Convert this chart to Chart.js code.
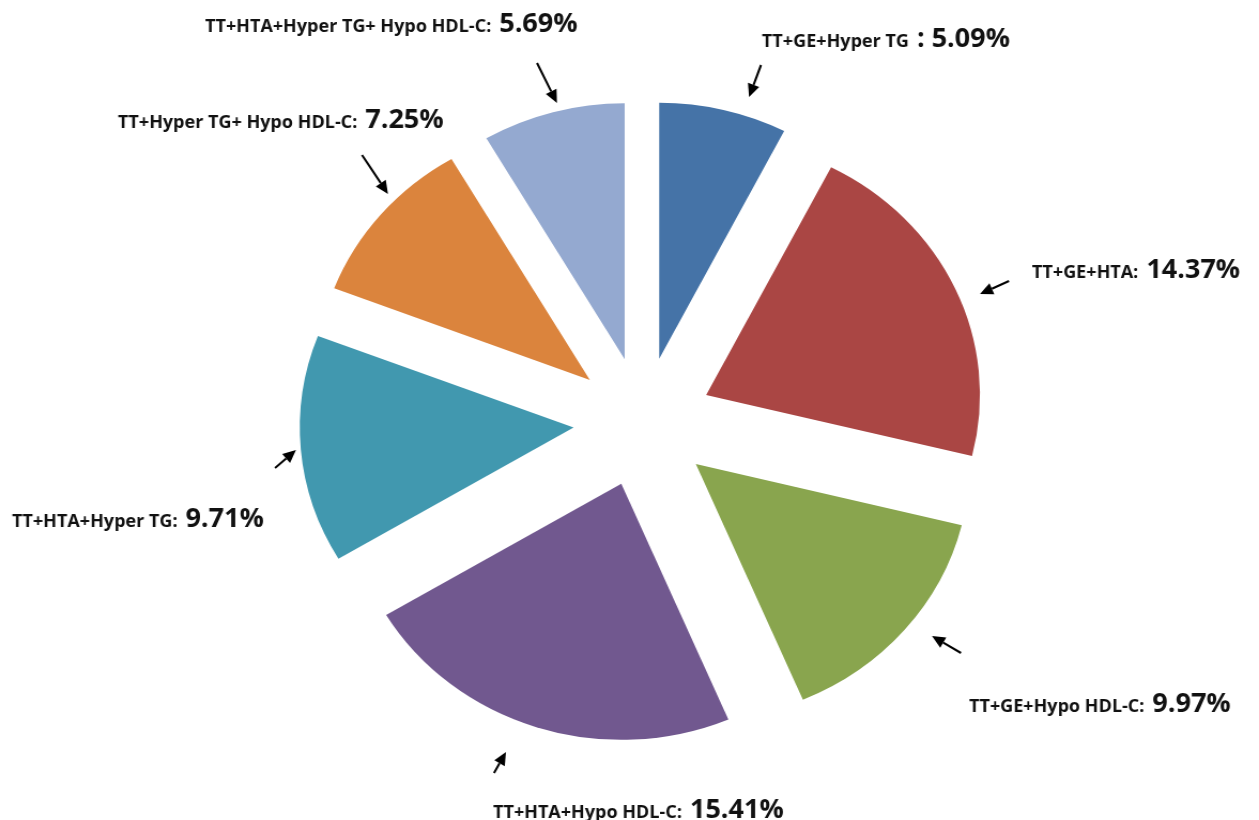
<!DOCTYPE html>
<html>
<head>
<meta charset="utf-8">
<script src="https://cdn.jsdelivr.net/npm/chart.js@4.4.1/dist/chart.umd.min.js"></script>
<style>
    html, body { margin: 0; padding: 0; background: #fff; }
</style>
</head>
<body>
<canvas id="pie" width="1177" height="820" style="display:block;width:1259px;height:820px"></canvas>
<script>
    // combinaisons de facteurs de risque (ordre horaire depuis midi)
    const categories = [
        'TT+GE+Hyper TG',
        'TT+GE+HTA',
        'TT+GE+Hypo HDL-C',
        'TT+HTA+Hypo HDL-C',
        'TT+HTA+Hyper TG',
        'TT+Hyper TG+ Hypo HDL-C',
        'TT+HTA+Hyper TG+ Hypo HDL-C',
    ];
    const shares = [5.09, 14.37, 9.97, 15.41, 9.71, 7.25, 5.69];
    const colors = ['#4573a7', '#aa4644', '#89a54e', '#71588f', '#4198af', '#db843d', '#94a9d0'];

    // the canvas is drawn narrower and stretched by CSS, giving the oval pie
    const SX = 1259 / 1177;
    // how far each slice is pulled out from the centre
    const EXPLODE = 65;

    // label anchors (left x, baseline) and arrows [tailX, tailY, tipX, tipY], page px
    const labelPos = [
        [762, 47], [1032, 278], [969, 712], [493, 818], [12, 527], [118, 128], [205, 32],
    ];
    const arrows = [
        [761, 65, 749, 97],
        [1009, 281, 980, 294],
        [961, 653, 932, 636],
        [494, 773, 506, 752],
        [275, 468, 296, 450],
        [362, 155, 388, 194],
        [537, 63, 557, 103],
    ];

    const nameFont = 'bold 18px "Open Sans"';
    const pctFont = 'bold 27px "Open Sans"';

    function drawArrow(ctx, x1, y1, x2, y2) {
        const a = Math.atan2(y2 - y1, x2 - x1);
        const len = 13, half = 6;
        const bx = x2 - len * Math.cos(a), by = y2 - len * Math.sin(a);
        ctx.beginPath();
        ctx.moveTo(x1, y1);
        ctx.lineTo(bx, by);
        ctx.lineWidth = 2.2;
        ctx.strokeStyle = '#000';
        ctx.stroke();
        ctx.beginPath();
        ctx.moveTo(x2, y2);
        ctx.lineTo(bx + half * Math.sin(a), by - half * Math.cos(a));
        ctx.lineTo(bx - half * Math.sin(a), by + half * Math.cos(a));
        ctx.closePath();
        ctx.fillStyle = '#000';
        ctx.fill();
    }

    // draws every arc pushed out along its mid angle (Chart.js offset also grows small slices)
    const explodePlugin = {
        id: 'explode',
        beforeDatasetsDraw(chart) {
            const ctx = chart.ctx;
            chart.getDatasetMeta(0).data.forEach((arc) => {
                const mid = (arc.startAngle + arc.endAngle) / 2;
                ctx.save();
                ctx.translate(Math.cos(mid) * EXPLODE, Math.sin(mid) * EXPLODE);
                arc.draw(ctx);
                ctx.restore();
            });
            return false;
        },
    };

    const calloutPlugin = {
        id: 'callouts',
        afterDraw(chart) {
            const ctx = chart.ctx;
            ctx.save();
            ctx.scale(1 / SX, 1);
            ctx.textBaseline = 'alphabetic';
            categories.forEach((name, i) => {
                const [x, y] = labelPos[i];
                const small = i === 0 ? name : name + ':';
                const big = (i === 0 ? ': ' : '') + shares[i].toFixed(2) + '%';
                ctx.fillStyle = '#111';
                ctx.font = nameFont;
                ctx.fillText(small, x, y);
                const w = ctx.measureText(small).width;
                ctx.font = pctFont;
                ctx.fillText(big, x + w + 8, y);
                drawArrow(ctx, ...arrows[i]);
            });
            ctx.restore();
        },
    };

    new Chart(document.getElementById('pie'), {
        type: 'pie',
        data: {
            labels: categories,
            datasets: [{
                data: shares,
                backgroundColor: colors,
                borderWidth: 0,
                hoverOffset: 0,
            }],
        },
        options: {
            responsive: false,
            animation: false,
            radius: 256,
            layout: { padding: { left: 25, right: 0, top: 24, bottom: 0 } },
            plugins: {
                legend: { display: false },
                tooltip: { enabled: false },
            },
        },
        plugins: [explodePlugin, calloutPlugin],
    });
</script>
</body>
</html>
